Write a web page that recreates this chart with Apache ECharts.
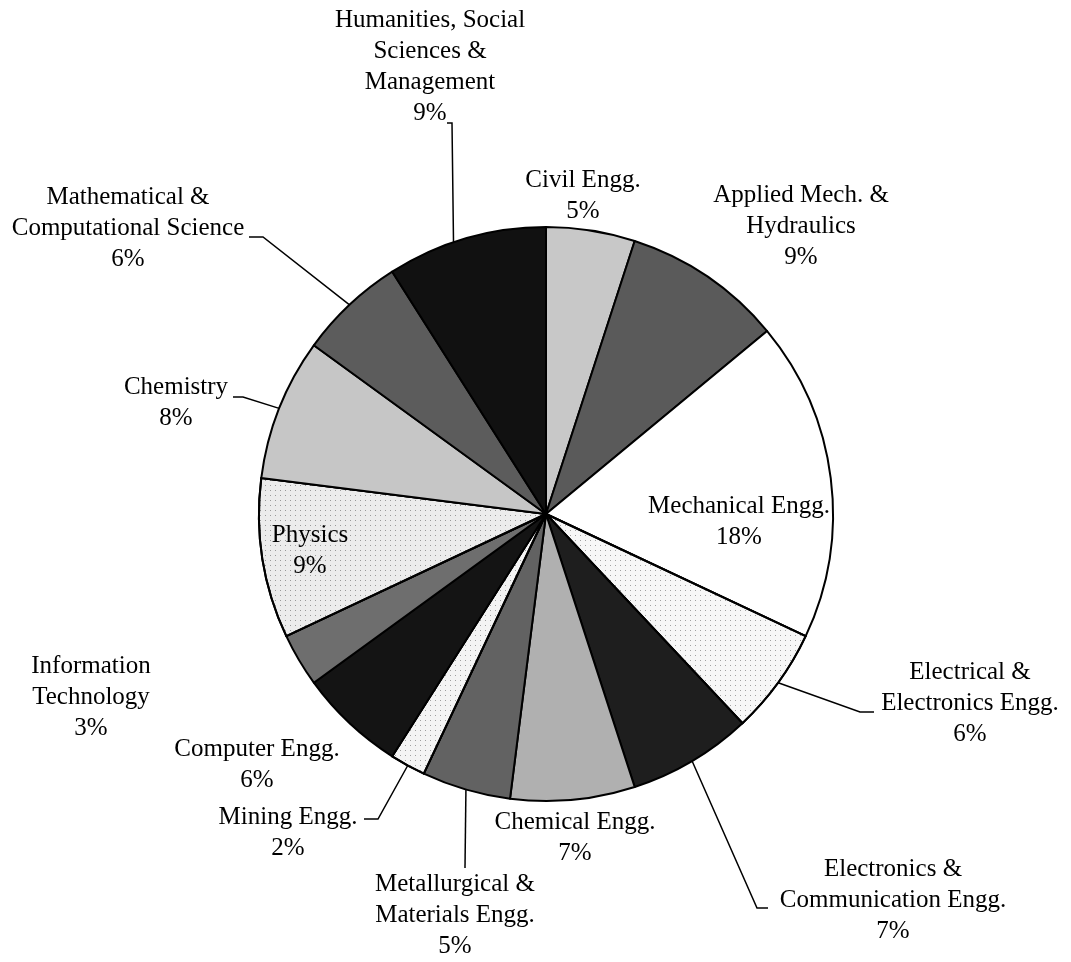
<!DOCTYPE html>
<html>
<head>
<meta charset="utf-8">
<script src="https://cdn.jsdelivr.net/npm/echarts@6/dist/echarts.min.js"></script>
<style>
  html, body { margin: 0; padding: 0; background: #fff; }
  #pie { width: 1071px; height: 962px; }
</style>
</head>
<body>
<div id="pie"></div>
<script>
  // departments, clockwise from 12 o'clock
  var departments = [
    'Civil Engg.',
    'Applied Mech. &\nHydraulics',
    'Mechanical Engg.',
    'Electrical &\nElectronics Engg.',
    'Electronics &\nCommunication Engg.',
    'Chemical Engg.',
    'Metallurgical &\nMaterials Engg.',
    'Mining Engg.',
    'Computer Engg.',
    'Information\nTechnology',
    'Physics',
    'Chemistry',
    'Mathematical &\nComputational Science',
    'Humanities, Social\nSciences &\nManagement'
  ];
  var shares = [5, 9, 18, 6, 7, 7, 5, 2, 6, 3, 9, 8, 6, 9];

  var CENTER = [546, 514];
  var RADIUS = 287;

  // fill tones (the original uses halftone patterns)
  var fills = ['#c8c8c8', '#5a5a5a', '#ffffff', '#f7f7f7', '#1e1e1e', '#b0b0b0', '#626262',
    '#f4f4f4', '#141414', '#6e6e6e', '#ececec', '#c6c6c6', '#5c5c5c', '#111111'];
  var dotted = [false, false, false, true, false, false, false, true, false, false, true, false, false, false];

  // label centres and leader line bends (null = no leader)
  var labelAt = [[583, 196], [801, 226], [739, 522], [970, 703], [893, 900], [575, 838], [455, 915],
    [288, 833], [257, 765], [91, 697], [310, 551], [176, 403], [128, 228], [430, 67]];
  var leaderBends = [null, null, null, [[860, 712], [874, 712]], [[757, 908], [768, 908]], null,
    [[465, 868]], [[378, 819], [364, 819]], null, null, null, [[243, 397], [233, 397]],
    [[263, 237], [249, 237]], [[452, 123], [447, 123]]];
  // leader start angle override (degrees clockwise from top), null = slice middle
  var leaderFrom = [null, null, null, null, null, null, null, null, null, null, null, null, null, 341.2];

  var chart = echarts.init(document.getElementById('pie'));

  var items = departments.map(function (name, i) {
    var style = { color: fills[i] };
    if (dotted[i]) {
      style.decal = {
        symbol: 'rect',
        symbolSize: 1,
        color: 'rgba(0,0,0,0.35)',
        dashArrayX: [1, 4],
        dashArrayY: [1, 4]
      };
    }
    return {
      name: name,
      value: shares[i],
      itemStyle: style,
      labelLine: { show: !!leaderBends[i] }
    };
  });

  chart.setOption({
    animation: false,
    backgroundColor: '#fff',
    series: [{
      type: 'pie',
      center: CENTER,
      radius: RADIUS,
      startAngle: 90,
      clockwise: true,
      avoidLabelOverlap: false,
      itemStyle: { borderColor: '#000', borderWidth: 2 },
      label: {
        show: true,
        fontFamily: 'Liberation Serif',
        fontSize: 25,
        lineHeight: 31,
        color: '#000',
        formatter: function (p) {
          return p.name + '\n' + Math.round(p.percent) + '%';
        }
      },
      labelLine: { show: true, lineStyle: { color: '#000', width: 1.5 } },
      labelLayout: function (p) {
        var i = p.dataIndex;
        var out = { x: labelAt[i][0], y: labelAt[i][1], align: 'center', verticalAlign: 'middle' };
        if (leaderBends[i] && p.labelLinePoints) {
          var start = p.labelLinePoints[0];
          if (leaderFrom[i] != null) {
            var a = leaderFrom[i] * Math.PI / 180;
            start = [CENTER[0] + RADIUS * Math.sin(a), CENTER[1] - RADIUS * Math.cos(a)];
          }
          out.labelLinePoints = [start].concat(leaderBends[i]);
        }
        return out;
      },
      emphasis: { disabled: true },
      data: items
    }]
  });
</script>
</body>
</html>
